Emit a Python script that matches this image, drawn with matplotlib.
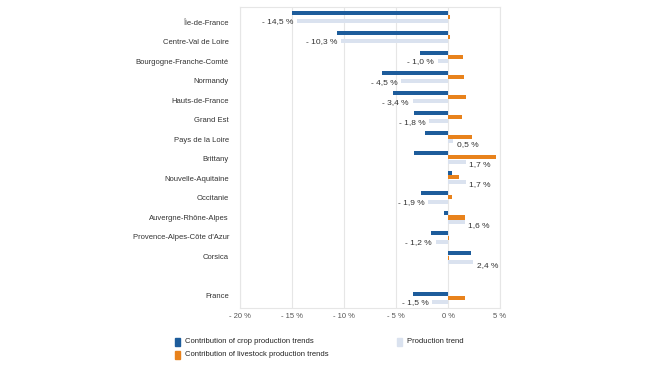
import matplotlib.pyplot as plt
import matplotlib.patches as patches
import numpy as np

plt.rcParams['font.family'] = ['Liberation Sans', 'DejaVu Sans']

# Data (percent)
regions = ['Île-de-France', 'Centre-Val de Loire', 'Bourgogne-Franche-Comté', 'Normandy',
           'Hauts-de-France', 'Grand Est', 'Pays de la Loire', 'Brittany',
           'Nouvelle-Aquitaine', 'Occitanie', 'Auvergne-Rhône-Alpes',
           "Provence-Alpes-Côte d'Azur", 'Corsica', '', 'France']
crop = [-15.0, -10.7, -2.65, -6.3, -5.3, -3.3, -2.2, -3.3, 0.35, -2.55, -0.35, -1.65, 2.25, np.nan, -3.35]
livestock = [0.2, 0.2, 1.45, 1.55, 1.7, 1.3, 2.35, 4.65, 1.1, 0.35, 1.65, 0.1, 0.05, np.nan, 1.6]
production = [-14.5, -10.3, -1.0, -4.5, -3.4, -1.8, 0.5, 1.7, 1.7, -1.9, 1.6, -1.2, 2.4, np.nan, -1.5]

xticks = [-20, -15, -10, -5, 0, 5]
xticklabels = ['- 20 %', '- 15 %', '- 10 %', '- 5 %', '0 %', '5 %']

BLUE = '#1d5c9b'
ORANGE = '#e8821c'
LIGHT = '#dae2ef'
GRID = '#e6e6e6'

fig = plt.figure(figsize=(6.5, 3.66), dpi=100)
ax = fig.add_axes([240 / 650, 1 - 307.8 / 366, 260 / 650, 301 / 366])

y = np.arange(len(regions))
h = 0.2
ax.barh(y - 0.21, crop, height=h, color=BLUE, zorder=3)
ax.barh(y, livestock, height=h, color=ORANGE, zorder=3)
ax.barh(y + 0.21, production, height=h, color=LIGHT, zorder=3)

# value labels on the production trend bars
for yi, v in zip(y, production):
    if np.isnan(v):
        continue
    txt = ('- ' if v < 0 else '') + f'{abs(v):.1f}'.replace('.', ',') + ' %'
    if v < 0:
        ax.text(v - 0.35, yi + 0.25, txt, ha='right', va='center', fontsize=6, color='#333333', zorder=4)
    else:
        ax.text(v + 0.35, yi + 0.38, txt, ha='left', va='center', fontsize=6, color='#333333', zorder=4)

ax.set_xlim(-20, 5)
ax.set_ylim(len(regions) - 0.5, -0.5)
ax.set_xticks(xticks)
ax.set_xticklabels(xticklabels, fontsize=5.5, color='#555555')
# the category labels sit on a slightly tighter pitch than the bar groups
ax.set_yticks(0.264 + 0.9726 * y)
ax.set_yticklabels(regions, fontsize=5.5, color='#333333')
ax.tick_params(length=0)
ax.tick_params(axis='x', pad=4)
ax.tick_params(axis='y', pad=8)
ax.xaxis.grid(True, color=GRID, linewidth=0.8, zorder=0)
for s in ax.spines.values():
    s.set_color(GRID)
    s.set_linewidth(0.8)

# legend drawn by hand
def legend_item(x, yy, color, label):
    fig.patches.append(patches.Rectangle((x / 650, 1 - (yy + 4) / 366), 4.5 / 650, 8 / 366,
                                         color=color, transform=fig.transFigure, figure=fig))
    fig.text((x + 10) / 650, 1 - yy / 366, label, fontsize=5.5, va='center', color='#222222')

legend_item(175, 341.5, BLUE, 'Contribution of crop production trends')
legend_item(175, 354.5, ORANGE, 'Contribution of livestock production trends')
legend_item(397, 341.5, LIGHT, 'Production trend')

fig.savefig('out.png', dpi=100)
